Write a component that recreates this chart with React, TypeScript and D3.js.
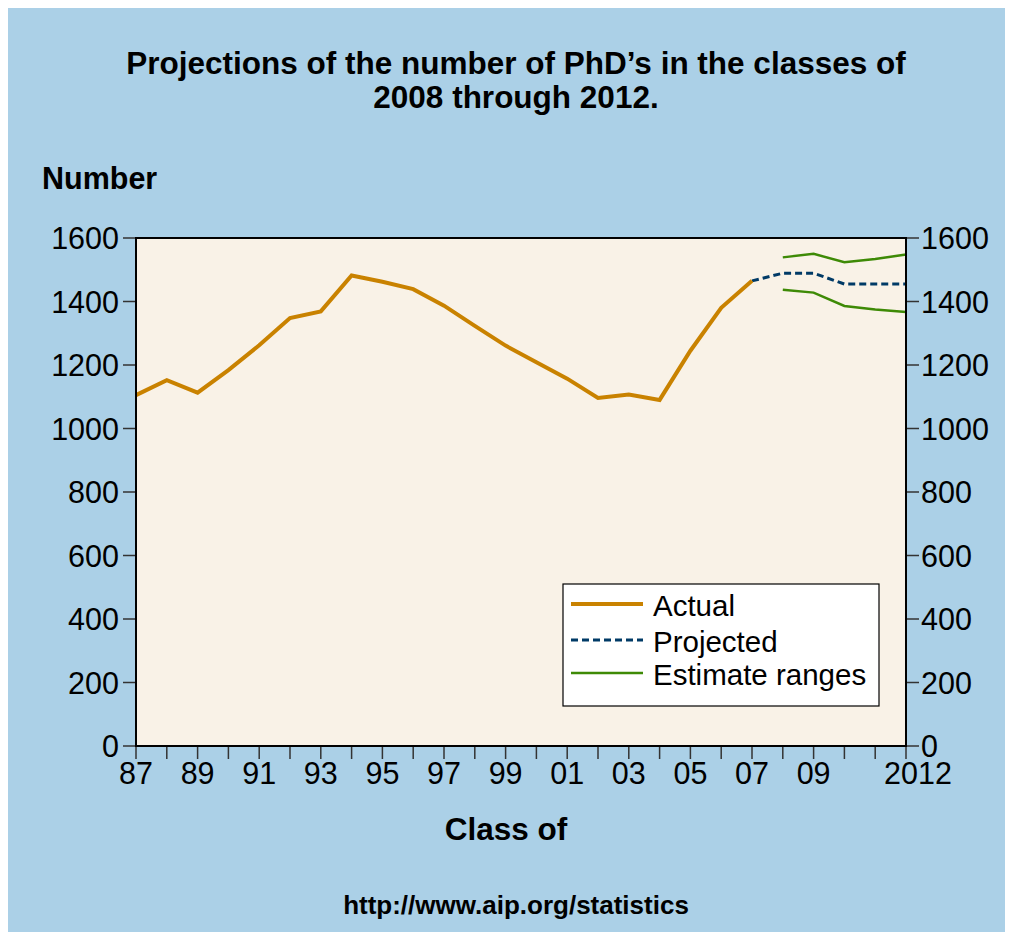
import React from "react";
import * as d3 from "d3";

const actualYears = [1987, 1988, 1989, 1990, 1991, 1992, 1993, 1994, 1995, 1996, 1997, 1998, 1999, 2000, 2001, 2002, 2003, 2004, 2005, 2006, 2007];
const actualValues = [1105, 1152, 1113, 1184, 1262, 1348, 1369, 1482, 1462, 1439, 1387, 1323, 1261, 1209, 1157, 1096, 1107, 1090, 1245, 1380, 1465];

const projectedYears = [2007, 2008, 2009, 2010, 2011, 2012];
const projectedValues = [1465, 1489, 1489, 1455, 1455, 1455];

const rangeYears = [2008, 2009, 2010, 2011, 2012];
const upperValues = [1539, 1550, 1524, 1534, 1548];
const lowerValues = [1437, 1428, 1386, 1375, 1367];

const yTicks = [0, 200, 400, 600, 800, 1000, 1200, 1400, 1600];
const xTickYears = [1987, 1989, 1991, 1993, 1995, 1997, 1999, 2001, 2003, 2005, 2007, 2009, 2012];
const xTickLabels = ["87", "89", "91", "93", "95", "97", "99", "01", "03", "05", "07", "09", "2012"];

const titleLines = ["Projections of the number of PhD\u2019s in the classes of", "2008 through 2012."];
const legendLabels = ["Actual", "Projected", "Estimate ranges"];

const FONT = "'Liberation Sans', Arial, Helvetica, sans-serif";
const BG = "#abd0e7";
const PLOT_BG = "#f9f2e7";
const C_ACTUAL = "#c98200";
const C_PROJ = "#003a66";
const C_EST = "#3e8a06";

export default function App() {
  const W = 1005;
  const H = 924;
  const left = 128, right = 898, top = 230, bottom = 738;
  const x = d3.scaleLinear().domain([1987, 2012]).range([left, right]);
  const y = d3.scaleLinear().domain([0, 1600]).range([bottom, top]);
  const line = d3.line<[number, number]>().x(d => x(d[0])).y(d => y(d[1]));
  const zip = (a: number[], b: number[]) => a.map((v, i) => [v, b[i]] as [number, number]);
  const allYears = d3.range(1987, 2013);

  return (
    <svg width={W} height={H} style={{ display: "block" }} fontFamily={FONT}>
      <rect x={0} y={0} width={W} height={H} fill={BG} />
      {titleLines.map((t, i) => (
        <text key={i} x={508} y={66 + i * 34} textAnchor="middle" fontSize={31.5} fontWeight="bold" fill="#000">{t}</text>
      ))}
      <text x={34} y={181} fontSize={30.5} fontWeight="bold" fill="#000">Number</text>
      <rect x={left} y={top} width={right - left} height={bottom - top} fill={PLOT_BG} />
      {/* ticks */}
      {yTicks.map(v => (
        <g key={"y" + v}>
          <line x1={left - 13} x2={left} y1={y(v)} y2={y(v)} stroke="#333" strokeWidth={1.5} />
          <line x1={right} x2={right + 13} y1={y(v)} y2={y(v)} stroke="#333" strokeWidth={1.5} />
          <text x={left - 17} y={y(v) + 11} textAnchor="end" fontSize={30.5} fill="#000">{v}</text>
          <text x={right + 15} y={y(v) + 11} textAnchor="start" fontSize={30.5} fill="#000">{v}</text>
        </g>
      ))}
      {allYears.map(yr => (
        <line key={"t" + yr} x1={x(yr)} x2={x(yr)} y1={bottom} y2={bottom + 13} stroke="#333" strokeWidth={1.5} />
      ))}
      {xTickYears.map((yr, i) => (
        <text key={"xl" + yr} x={x(yr) + (yr === 2012 ? 12 : 0)} y={bottom + 38} textAnchor="middle" fontSize={30.5} fill="#000">{xTickLabels[i]}</text>
      ))}
      {/* series */}
      <path d={line(zip(rangeYears, upperValues)) || ""} fill="none" stroke={C_EST} strokeWidth={2.5} />
      <path d={line(zip(rangeYears, lowerValues)) || ""} fill="none" stroke={C_EST} strokeWidth={2.5} />
      <path d={line(zip(projectedYears, projectedValues)) || ""} fill="none" stroke={C_PROJ} strokeWidth={3} strokeDasharray="7,4" />
      <path d={line(zip(actualYears, actualValues)) || ""} fill="none" stroke={C_ACTUAL} strokeWidth={4} strokeLinejoin="miter" />
      {/* frame */}
      <rect x={left} y={top} width={right - left} height={bottom - top} fill="none" stroke="#000" strokeWidth={2} />
      {/* legend */}
      <rect x={555} y={576} width={316} height={122} fill="#fff" stroke="#000" strokeWidth={1.2} />
      {legendLabels.map((lab, i) => {
        const ly = [596, 632, 665][i];
        const stroke = [C_ACTUAL, C_PROJ, C_EST][i];
        const sw = [4, 3, 2.5][i];
        return (
          <g key={lab}>
            <line x1={563} x2={635} y1={ly} y2={ly} stroke={stroke} strokeWidth={sw} strokeDasharray={i === 1 ? "7,4" : undefined} />
            <text x={645} y={ly + 12} fontSize={29.5} fill="#000">{lab}</text>
          </g>
        );
      })}
      <text x={498} y={832} textAnchor="middle" fontSize={31.5} fontWeight="bold" fill="#000">Class of</text>
      <text x={508} y={906} textAnchor="middle" fontSize={26} fontWeight="bold" fill="#000">http://www.aip.org/statistics</text>
    </svg>
  );
}
